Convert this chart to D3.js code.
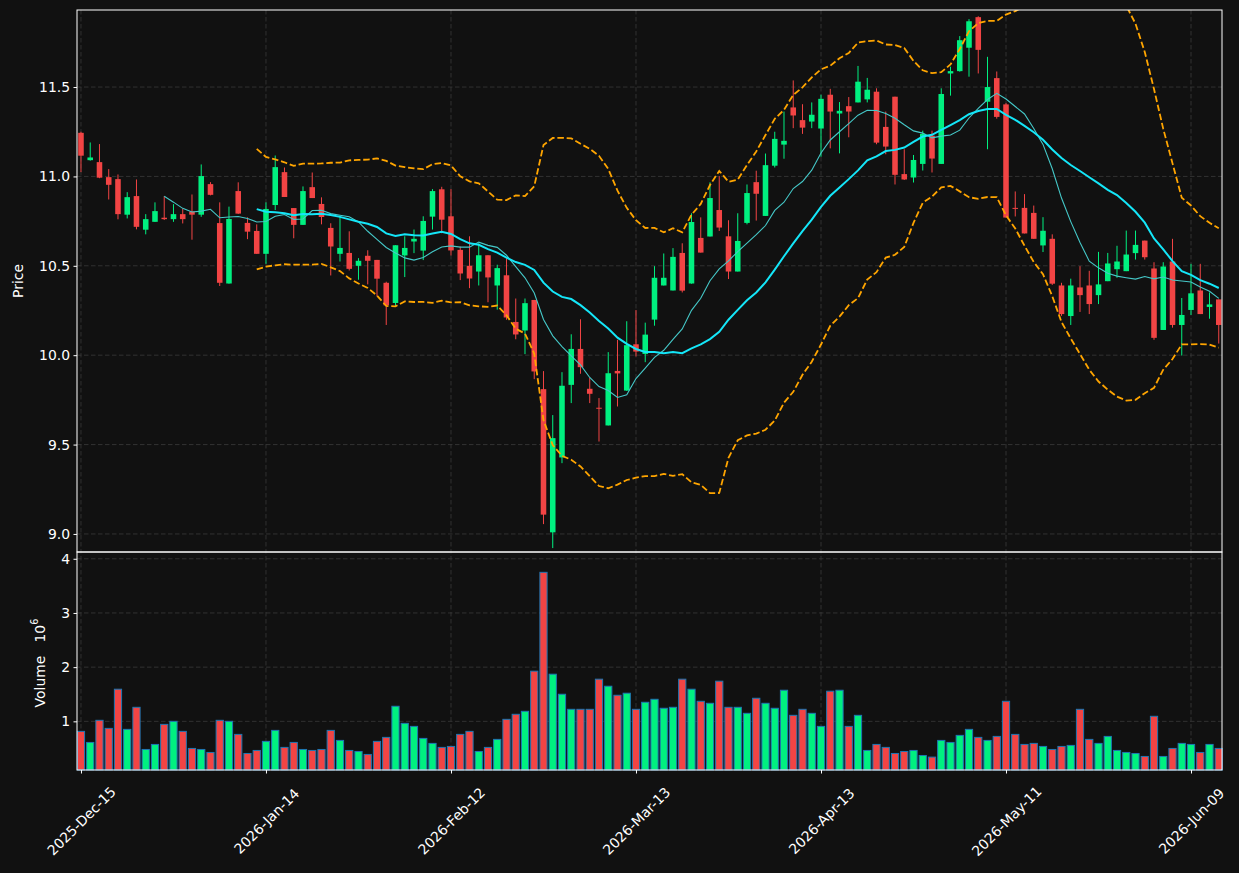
<!DOCTYPE html>
<html>
<head>
<meta charset="utf-8">
<script src="https://cdn.jsdelivr.net/npm/d3@7"></script>
<style>
  html, body { margin: 0; padding: 0; background: #111111; }
  svg { display: block; font-family: "DejaVu Sans", sans-serif; }
</style>
</head>
<body>
<div id="chart"></div>
<script>
// daily OHLC, one entry per trading day (2025-12-15 .. 2026-06-12)
const opens = [
  11.244, 11.091, 11.080, 10.996, 10.985, 10.786, 10.890, 10.702, 10.746, 10.769,
  10.761, 10.789, 10.804, 10.786, 10.957, 10.739, 10.401, 10.918, 10.740, 10.695,
  10.567, 10.840, 11.024, 10.823, 10.729, 10.940, 10.846, 10.712, 10.567, 10.572,
  10.500, 10.556, 10.533, 10.405, 10.292, 10.558, 10.636, 10.585, 10.775, 10.928,
  10.777, 10.589, 10.500, 10.468, 10.559, 10.390, 10.447, 10.186, 10.138, 10.309,
  9.810, 9.009, 9.428, 9.834, 10.035, 9.812, 9.706, 9.607, 9.912, 9.802,
  10.061, 10.007, 10.199, 10.390, 10.362, 10.572, 10.401, 10.656, 10.664, 10.812,
  10.665, 10.468, 10.740, 10.968, 10.779, 11.060, 11.178, 11.386, 11.315, 11.307,
  11.268, 11.457, 11.352, 11.393, 11.414, 11.431, 11.474, 11.277, 11.446, 11.013,
  10.994, 11.070, 11.228, 11.070, 11.576, 11.589, 11.720, 11.891, 11.418, 11.550,
  11.403, 10.824, 10.824, 10.796, 10.614, 10.651, 10.390, 10.219, 10.379, 10.390,
  10.336, 10.414, 10.481, 10.470, 10.571, 10.641, 10.485, 10.141, 10.524, 10.169,
  10.253, 10.362, 10.270, 10.312
];
const highs = [
  11.250, 11.190, 11.181, 11.041, 11.011, 10.912, 10.983, 10.789, 10.855, 10.890,
  10.845, 10.819, 10.899, 11.067, 10.968, 10.855, 10.831, 10.967, 10.771, 10.732,
  10.855, 11.117, 11.050, 10.823, 10.944, 11.022, 10.883, 10.738, 10.773, 10.693,
  10.543, 10.587, 10.533, 10.411, 10.615, 10.665, 10.703, 10.777, 10.929, 10.942,
  10.929, 10.608, 10.665, 10.626, 10.559, 10.506, 10.542, 10.317, 10.317, 10.309,
  9.911, 9.665, 9.905, 10.117, 10.201, 9.873, 9.760, 10.017, 10.086, 10.190,
  10.253, 10.182, 10.498, 10.569, 10.599, 10.626, 10.794, 10.771, 10.967, 11.002,
  10.755, 10.794, 10.955, 11.032, 11.128, 11.250, 11.363, 11.537, 11.404, 11.414,
  11.457, 11.490, 11.416, 11.444, 11.618, 11.551, 11.493, 11.363, 11.446, 11.152,
  11.120, 11.256, 11.256, 11.493, 11.614, 11.785, 11.880, 11.896, 11.669, 11.587,
  11.410, 10.916, 10.901, 10.837, 10.772, 10.676, 10.405, 10.428, 10.498, 10.472,
  10.578, 10.572, 10.612, 10.697, 10.697, 10.641, 10.520, 10.520, 10.651, 10.320,
  10.511, 10.511, 10.351, 10.312
];
const lows = [
  11.024, 11.088, 10.990, 10.871, 10.760, 10.765, 10.704, 10.676, 10.746, 10.756,
  10.746, 10.737, 10.646, 10.774, 10.894, 10.387, 10.400, 10.790, 10.649, 10.567,
  10.511, 10.812, 10.885, 10.654, 10.729, 10.879, 10.732, 10.446, 10.524, 10.474,
  10.422, 10.396, 10.329, 10.169, 10.270, 10.437, 10.571, 10.532, 10.703, 10.682,
  10.558, 10.420, 10.375, 10.390, 10.296, 10.255, 10.198, 10.089, 10.006, 9.866,
  9.055, 8.921, 9.396, 9.732, 9.896, 9.732, 9.517, 9.607, 9.713, 9.800,
  9.993, 9.961, 10.165, 10.390, 10.362, 10.351, 10.400, 10.574, 10.664, 10.695,
  10.426, 10.468, 10.732, 10.753, 10.779, 11.050, 11.099, 11.270, 11.238, 11.270,
  11.110, 11.157, 11.129, 11.219, 11.414, 11.414, 11.180, 11.124, 10.955, 10.980,
  10.966, 11.033, 11.022, 11.070, 11.452, 11.586, 11.558, 11.576, 11.152, 11.323,
  10.770, 10.776, 10.681, 10.651, 10.577, 10.393, 10.220, 10.169, 10.242, 10.230,
  10.286, 10.414, 10.433, 10.470, 10.535, 10.535, 10.086, 10.141, 10.154, 9.998,
  10.225, 10.230, 10.204, 10.065
];
const closes = [
  11.116, 11.106, 10.993, 10.953, 10.789, 10.884, 10.718, 10.761, 10.806, 10.761,
  10.789, 10.761, 10.786, 11.002, 10.897, 10.405, 10.762, 10.792, 10.691, 10.567,
  10.818, 11.052, 10.885, 10.729, 10.918, 10.879, 10.773, 10.608, 10.600, 10.483,
  10.528, 10.528, 10.428, 10.279, 10.615, 10.600, 10.651, 10.751, 10.918, 10.758,
  10.586, 10.457, 10.429, 10.559, 10.435, 10.487, 10.211, 10.116, 10.291, 9.909,
  9.108, 9.536, 9.829, 10.035, 9.933, 9.784, 9.702, 9.899, 9.898, 10.056,
  10.020, 10.115, 10.433, 10.433, 10.550, 10.361, 10.745, 10.574, 10.879, 10.714,
  10.468, 10.639, 10.907, 10.903, 11.063, 11.210, 11.199, 11.341, 11.273, 11.345,
  11.434, 11.363, 11.367, 11.363, 11.530, 11.485, 11.189, 11.167, 11.009, 10.983,
  11.092, 11.238, 11.100, 11.461, 11.589, 11.762, 11.868, 11.708, 11.500, 11.333,
  10.770, 10.821, 10.681, 10.651, 10.696, 10.400, 10.230, 10.390, 10.336, 10.286,
  10.396, 10.513, 10.524, 10.563, 10.617, 10.548, 10.097, 10.496, 10.169, 10.225,
  10.346, 10.230, 10.284, 10.169
];
// volume in millions of shares
const volumes = [
  0.815, 0.611, 1.019, 0.870, 1.593, 0.852, 1.259, 0.481, 0.574, 0.944,
  1.000, 0.815, 0.500, 0.481, 0.426, 1.019, 1.000, 0.759, 0.407, 0.463,
  0.630, 0.833, 0.519, 0.611, 0.481, 0.463, 0.481, 0.833, 0.648, 0.463,
  0.444, 0.389, 0.630, 0.704, 1.278, 0.963, 0.907, 0.685, 0.593, 0.519,
  0.537, 0.759, 0.815, 0.444, 0.519, 0.667, 1.037, 1.130, 1.185, 1.926,
  3.750, 1.870, 1.500, 1.222, 1.222, 1.222, 1.778, 1.648, 1.481, 1.519,
  1.222, 1.352, 1.407, 1.241, 1.259, 1.778, 1.593, 1.370, 1.333, 1.741,
  1.259, 1.259, 1.148, 1.426, 1.333, 1.241, 1.574, 1.111, 1.222, 1.148,
  0.907, 1.556, 1.574, 0.907, 1.111, 0.463, 0.574, 0.519, 0.407, 0.444,
  0.463, 0.370, 0.340, 0.648, 0.611, 0.741, 0.852, 0.704, 0.648, 0.722,
  1.370, 0.759, 0.574, 0.593, 0.537, 0.481, 0.537, 0.556, 1.222, 0.667,
  0.593, 0.722, 0.463, 0.426, 0.407, 0.352, 1.093, 0.352, 0.500, 0.593,
  0.574, 0.426, 0.574, 0.500
];
const tickIndex = [0, 20, 40, 60, 80, 100, 120];
const tickLabels = ["2025-Dec-15", "2026-Jan-14", "2026-Feb-12", "2026-Mar-13",
                    "2026-Apr-13", "2026-May-11", "2026-Jun-09"];
const priceTicks = [9.0, 9.5, 10.0, 10.5, 11.0, 11.5];
const volumeTicks = [1, 2, 3, 4];

const W = 1239, H = 873;
const left = 77, right = 1222;
const pTop = 10, pBot = 552, vTop = 552, vBot = 770;
const upColor = "#00f080", downColor = "#f24444";

const n = closes.length;
const candles = d3.range(n).map(i => ({
  i, o: opens[i], h: highs[i], l: lows[i], c: closes[i], v: volumes[i]
}));
const colorOf = d => d.c >= d.o ? upColor : downColor;

// rolling mean / std of closes
function rolling(win, fn) {
  return closes.map((_, i) => i < win - 1 ? null : fn(closes.slice(i - win + 1, i + 1)));
}
const mav10 = rolling(10, d3.mean);
const mav20 = rolling(20, d3.mean);
const sd20 = rolling(20, d3.deviation);
const bbUp = mav20.map((m, i) => m == null ? null : m + 2 * sd20[i]);
const bbLo = mav20.map((m, i) => m == null ? null : m - 2 * sd20[i]);

const x = d3.scaleLinear().domain([-0.43, n - 1 + 0.35]).range([left, right]);
const step = x(1) - x(0);
const yP = d3.scaleLinear().domain([8.899, 11.931]).range([pBot, pTop]);
const yV = d3.scaleLinear()
  .domain([0.3 * d3.min(volumes), 1.1 * d3.max(volumes)])
  .range([vBot, vTop]);

const svg = d3.select("#chart").append("svg")
  .attr("width", W).attr("height", H);
svg.append("rect").attr("width", W).attr("height", H).attr("fill", "#111111");

svg.append("defs").append("clipPath").attr("id", "clipP")
  .append("rect").attr("x", left).attr("y", pTop)
  .attr("width", right - left).attr("height", pBot - pTop);

// grid
const grid = svg.append("g")
  .attr("stroke", "#3a3a3a").attr("stroke-width", 0.8)
  .attr("stroke-dasharray", "4.5,2.5");
grid.selectAll(".gp").data(priceTicks).join("line")
  .attr("x1", left).attr("x2", right)
  .attr("y1", d => yP(d)).attr("y2", d => yP(d));
grid.selectAll(".gv").data(volumeTicks).join("line")
  .attr("x1", left).attr("x2", right)
  .attr("y1", d => yV(d)).attr("y2", d => yV(d));
grid.selectAll(".gx").data(tickIndex).join("line")
  .attr("x1", d => x(d)).attr("x2", d => x(d))
  .attr("y1", pTop).attr("y2", vBot);

// candles
const cg = svg.append("g");
cg.selectAll("line").data(candles).join("line")
  .attr("x1", d => x(d.i)).attr("x2", d => x(d.i))
  .attr("y1", d => yP(d.h)).attr("y2", d => yP(d.l))
  .attr("stroke", colorOf).attr("stroke-width", 1);
const bodyW = step * 0.6;
cg.selectAll("rect").data(candles).join("rect")
  .attr("x", d => x(d.i) - bodyW / 2).attr("width", bodyW)
  .attr("y", d => yP(Math.max(d.o, d.c)))
  .attr("height", d => Math.max(1, Math.abs(yP(d.o) - yP(d.c))))
  .attr("fill", colorOf);

// moving averages and bands
const line = arr => d3.line()
  .defined(d => arr[d] != null)
  .x(d => x(d)).y(d => yP(arr[d]))(d3.range(n));
const lg = svg.append("g").attr("clip-path", "url(#clipP)").attr("fill", "none");
lg.append("path").attr("d", line(bbUp))
  .attr("stroke", "#ffa500").attr("stroke-width", 1.8).attr("stroke-dasharray", "6.5,2.8");
lg.append("path").attr("d", line(bbLo))
  .attr("stroke", "#ffa500").attr("stroke-width", 1.8).attr("stroke-dasharray", "6.5,2.8");
lg.append("path").attr("d", line(mav10))
  .attr("stroke", "#45c8c8").attr("stroke-width", 1.1);
lg.append("path").attr("d", line(mav20))
  .attr("stroke", "#14e6f8").attr("stroke-width", 2);

// volume
const volW = step * 0.78;
svg.append("g").selectAll("rect").data(candles).join("rect")
  .attr("x", d => x(d.i) - volW / 2).attr("width", volW)
  .attr("y", d => yV(d.v)).attr("height", d => vBot - yV(d.v))
  .attr("fill", colorOf).attr("stroke", "#1f77b4").attr("stroke-width", 1);

// frames
svg.append("rect").attr("x", left).attr("y", pTop)
  .attr("width", right - left).attr("height", pBot - pTop)
  .attr("fill", "none").attr("stroke", "#ffffff").attr("stroke-width", 1);
svg.append("rect").attr("x", left).attr("y", vTop)
  .attr("width", right - left).attr("height", vBot - vTop)
  .attr("fill", "none").attr("stroke", "#ffffff").attr("stroke-width", 1);

function styleAxis(g) {
  g.select(".domain").remove();
  g.selectAll(".tick line").attr("stroke", "#ffffff");
  g.selectAll(".tick text").attr("fill", "#ffffff")
    .style("font-size", "13.9px").style("font-family", "DejaVu Sans, sans-serif");
}

svg.append("g").attr("transform", `translate(${left},0)`)
  .call(d3.axisLeft(yP).tickValues(priceTicks).tickFormat(d3.format(".1f"))
    .tickSize(3.5).tickPadding(3.5))
  .call(styleAxis);
svg.append("g").attr("transform", `translate(${left},0)`)
  .call(d3.axisLeft(yV).tickValues(volumeTicks).tickFormat(d3.format("d"))
    .tickSize(3.5).tickPadding(3.5))
  .call(styleAxis);

const xa = svg.append("g").attr("transform", `translate(0,${vBot})`)
  .call(d3.axisBottom(x).tickValues(tickIndex).tickFormat((d, k) => tickLabels[k])
    .tickSize(3.5))
  .call(styleAxis);
xa.selectAll(".tick text")
  .attr("y", null).attr("dy", null)
  .attr("text-anchor", "middle").attr("dominant-baseline", "central")
  .attr("transform", "translate(0,51) rotate(-45)");

// axis titles
svg.append("text")
  .attr("transform", `translate(18,${(pTop + pBot) / 2}) rotate(-90)`)
  .attr("text-anchor", "middle").attr("dominant-baseline", "central")
  .attr("fill", "#ffffff").style("font-size", "13.9px")
  .text("Price");
const vt = svg.append("text")
  .attr("transform", `translate(40,${(vTop + vBot) / 2 + 2}) rotate(-90)`)
  .attr("text-anchor", "middle").attr("dominant-baseline", "central")
  .attr("fill", "#ffffff").style("font-size", "13.9px");
vt.append("tspan").text("Volume\u00a0\u00a0\u00a010");
vt.append("tspan").attr("baseline-shift", "super").style("font-size", "9.7px").text("6");
</script>
</body>
</html>
